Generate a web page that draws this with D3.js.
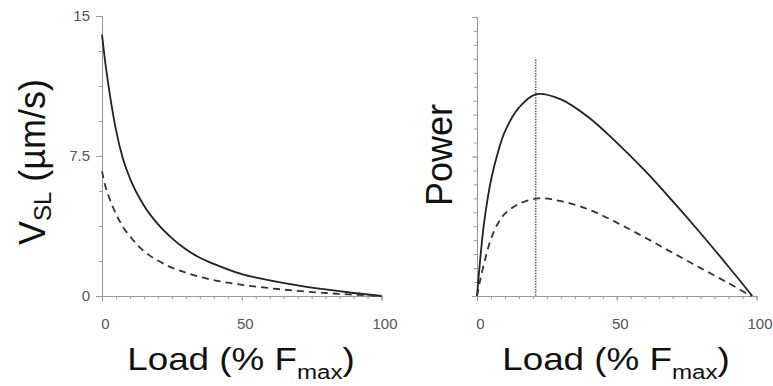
<!DOCTYPE html>
<html>
<head>
<meta charset="utf-8">
<script src="https://cdn.jsdelivr.net/npm/d3@7"></script>
<style>
  body { margin: 0; background: #fff; }
  text { font-family: "Liberation Sans", Arial, sans-serif; }
</style>
</head>
<body>
<div id="chart"></div>
<script>
// load (% Fmax) sample points and velocities
var loadV = [0, 1, 2.5, 5, 7.5, 10, 15, 20, 25, 30, 35, 40, 50, 60, 70, 80, 90, 100];
var vslSolid = [14.0, 12.7, 11.1, 8.9, 7.35, 6.3, 4.85, 3.85, 3.1, 2.5, 2.05, 1.72, 1.17, 0.84, 0.57, 0.35, 0.16, 0];
var vslDashed = [6.68, 6.0, 5.3, 4.4, 3.7, 3.2, 2.4, 1.9, 1.52, 1.25, 1.03, 0.85, 0.6, 0.42, 0.27, 0.16, 0.07, 0];

// power curves (relative units)
var loadPSolid = [0, 1, 2.5, 5, 7.5, 10, 15, 21, 30, 40, 50, 60, 70, 80, 90, 98.5];
var powSolid = [0, 0.115, 0.26, 0.415, 0.515, 0.59, 0.675, 0.723, 0.705, 0.64, 0.55, 0.45, 0.34, 0.225, 0.105, 0];
var loadPDashed = [0, 1, 2.5, 5, 7.5, 10, 15, 22, 30, 40, 50, 60, 70, 80, 90, 98];
var powDashed = [0, 0.05, 0.115, 0.205, 0.26, 0.295, 0.33, 0.35, 0.34, 0.31, 0.263, 0.21, 0.155, 0.1, 0.046, 0];

// optimum load marker
var peakLoad = 21, peakTop = 0.848;

var xTicks = [0, 50, 100];
var vTicks = [0, 7.5, 15];
var vTickLabels = ["0", "7.5", "15"];

var width = 773, height = 386;

var svg = d3.select("#chart")
  .append("svg")
    .attr("width", width)
    .attr("height", height);

var axisColor = "#999", labelColor = "#555";

function zip(xs, ys) {
  return xs.map(function(x, i) { return [x, ys[i]]; });
}

function styleAxis(g) {
  g.select(".domain").attr("stroke", axisColor);
  g.selectAll(".tick line").attr("stroke", axisColor);
  g.selectAll(".tick text")
    .attr("fill", labelColor)
    .style("font-size", "15px")
    .style("font-family", "Liberation Sans, Arial, sans-serif");
}

function xTitle(cx) {
  var t = svg.append("text")
    .attr("transform", "translate(" + cx + ",370) scale(1.15,1)")
    .attr("text-anchor", "middle")
    .attr("fill", "#111")
    .style("font-size", "32px");
  t.append("tspan").text("Load (% F");
  t.append("tspan").attr("dy", 9).style("font-size", "21px").text("max");
  t.append("tspan").attr("dy", -9).text(")");
}

// ---------- left panel: velocity ----------
var x1 = d3.scaleLinear().domain([0, 100]).range([102, 381.5]);
var y1 = d3.scaleLinear().domain([0, 15]).range([296, 16]);

// minor ticks first
svg.append("g")
  .attr("transform", "translate(" + x1(0) + ",0)")
  .call(d3.axisLeft(y1).tickValues(d3.range(0, 15.01, 1.875)).tickSize(3).tickFormat(""))
  .call(styleAxis);
svg.append("g")
  .attr("transform", "translate(0," + y1(0) + ")")
  .call(d3.axisBottom(x1).tickValues(d3.range(0, 100.1, 5)).tickSize(3).tickFormat(""))
  .call(styleAxis);

svg.append("g")
  .attr("transform", "translate(" + x1(0) + ",0)")
  .call(d3.axisLeft(y1).tickValues(vTicks).tickSize(6).tickSizeOuter(0).tickPadding(6)
    .tickFormat(function(d, i) { return vTickLabels[i]; }))
  .call(styleAxis);
svg.append("g")
  .attr("transform", "translate(0," + y1(0) + ")")
  .call(d3.axisBottom(x1).tickValues(xTicks).tickSize(5).tickSizeOuter(0).tickPadding(17))
  .call(styleAxis)
  .selectAll(".tick text").attr("x", 3);

var line1 = d3.line()
  .x(function(d) { return x1(d[0]); })
  .y(function(d) { return y1(d[1]); })
  .curve(d3.curveMonotoneX);

svg.append("path")
  .attr("d", line1(zip(loadV, vslSolid)))
  .attr("fill", "none")
  .attr("stroke", "#222")
  .attr("stroke-width", 1.8);
svg.append("path")
  .attr("d", line1(zip(loadV, vslDashed)))
  .attr("fill", "none")
  .attr("stroke", "#333")
  .attr("stroke-width", 1.8)
  .attr("stroke-dasharray", "7,5");

// y title
var yt = svg.append("text")
  .attr("transform", "translate(45,162) rotate(-90)")
  .attr("text-anchor", "middle")
  .attr("fill", "#111")
  .style("font-size", "36px");
yt.append("tspan").text("V");
yt.append("tspan").attr("dy", 6).style("font-size", "24px").text("SL");
yt.append("tspan").attr("dy", -6).text(" (\u00b5m/s)");

xTitle(241);

// ---------- right panel: power ----------
var x2 = d3.scaleLinear().domain([0, 100]).range([477, 756.5]);
var y2 = d3.scaleLinear().domain([0, 1]).range([296, 17]);

svg.append("g")
  .attr("transform", "translate(" + x2(0) + ",0)")
  .call(d3.axisLeft(y2).tickValues(d3.range(0, 1.001, 0.05)).tickSize(3).tickFormat(""))
  .call(styleAxis);
svg.append("g")
  .attr("transform", "translate(" + x2(0) + ",0)")
  .call(d3.axisLeft(y2).tickValues([0, 0.5, 1]).tickSize(5).tickSizeOuter(0).tickFormat(""))
  .call(styleAxis);
svg.append("g")
  .attr("transform", "translate(0," + y2(0) + ")")
  .call(d3.axisBottom(x2).tickValues(d3.range(0, 100.1, 5)).tickSize(3).tickFormat(""))
  .call(styleAxis);
svg.append("g")
  .attr("transform", "translate(0," + y2(0) + ")")
  .call(d3.axisBottom(x2).tickValues(xTicks).tickSize(5).tickSizeOuter(0).tickPadding(17))
  .call(styleAxis)
  .selectAll(".tick text").attr("x", 3);

// dotted marker at optimum load
svg.append("line")
  .attr("x1", x2(peakLoad)).attr("x2", x2(peakLoad))
  .attr("y1", y2(peakTop)).attr("y2", y2(0))
  .attr("stroke", "#666")
  .attr("stroke-width", 1.6)
  .attr("stroke-dasharray", "1.5,1.2");

var line2 = d3.line()
  .x(function(d) { return x2(d[0]); })
  .y(function(d) { return y2(d[1]); })
  .curve(d3.curveCatmullRom.alpha(0.5));

svg.append("path")
  .attr("d", line2(zip(loadPSolid, powSolid)))
  .attr("fill", "none")
  .attr("stroke", "#222")
  .attr("stroke-width", 1.8);
svg.append("path")
  .attr("d", line2(zip(loadPDashed, powDashed)))
  .attr("fill", "none")
  .attr("stroke", "#333")
  .attr("stroke-width", 1.8)
  .attr("stroke-dasharray", "7,5");

svg.append("text")
  .attr("transform", "translate(452,155) rotate(-90)")
  .attr("text-anchor", "middle")
  .attr("fill", "#111")
  .style("font-size", "36px")
  .text("Power");

xTitle(616);
</script>
</body>
</html>
